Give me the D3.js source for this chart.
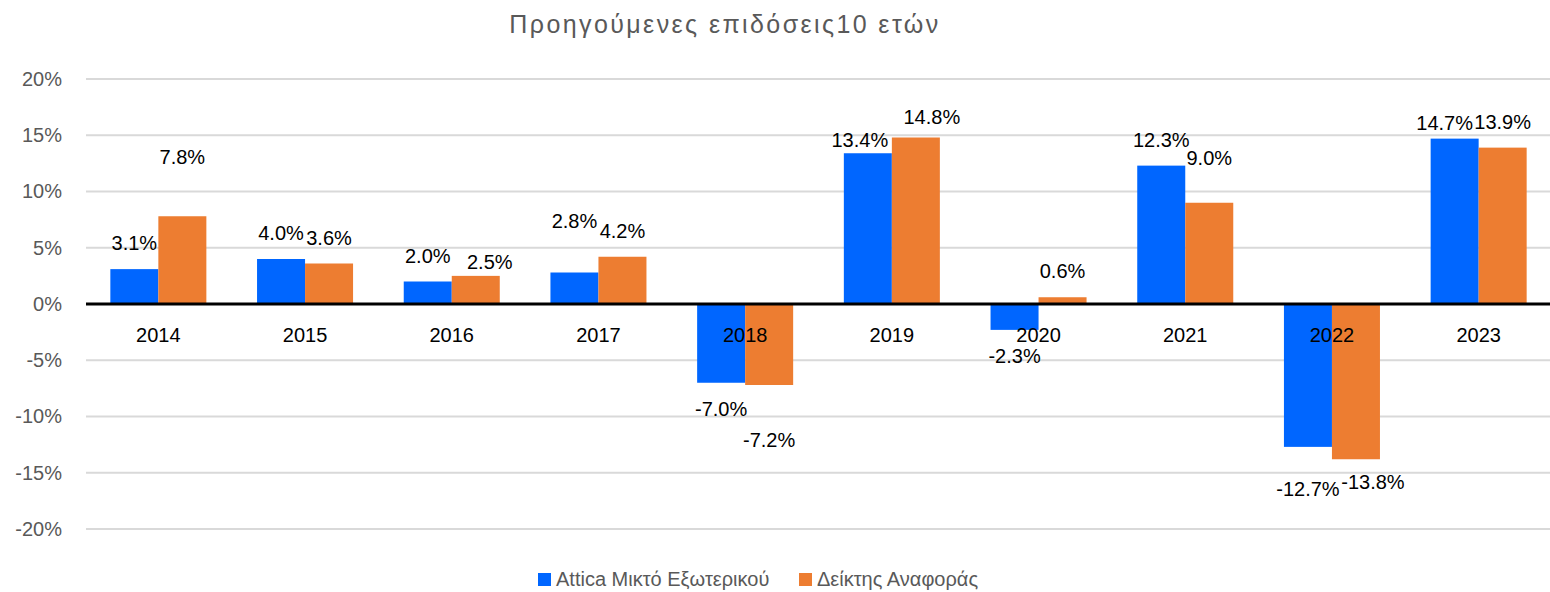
<!DOCTYPE html>
<html>
<head>
<meta charset="utf-8">
<script src="https://cdn.jsdelivr.net/npm/d3@7"></script>
<style>
  html, body { margin: 0; padding: 0; background: #ffffff; }
  svg { display: block; font-family: "Liberation Sans", Arial, sans-serif; }
</style>
</head>
<body>
<svg id="chart" width="1550" height="592"></svg>
<script>
// Annual returns (%) for the fund and its benchmark
const years = ["2014", "2015", "2016", "2017", "2018", "2019", "2020", "2021", "2022", "2023"];
const fundReturns = [3.1, 4.0, 2.0, 2.8, -7.0, 13.4, -2.3, 12.3, -12.7, 14.7];
const benchmarkReturns = [7.8, 3.6, 2.5, 4.2, -7.2, 14.8, 0.6, 9.0, -13.8, 13.9];
const seriesNames = ["Attica Μικτό Εξωτερικού", "Δείκτης Αναφοράς"];
const yTicks = [-20, -15, -10, -5, 0, 5, 10, 15, 20];
const titleText = "Προηγούμενες επιδόσεις10 ετών";

// Layout and styling
const colors = ["#0066FF", "#ED7D31"];
const plot = { left: 85, right: 1552, top: 79, bottom: 529 };
const labelGap = 26;
// Hand-placed data label offsets [dx, dy] per series and year
const labelNudge = [
  { "2017": [0, -26], "2019": [-8, 13], "2022": [0, 16], "2023": [-10, 10] },
  { "2014": [0, -33], "2016": [14, 12], "2018": [0, 29], "2019": [16, 5], "2021": [0, -19], "2022": [17, -3] }
];

const svg = d3.select("#chart");

const series = [fundReturns, benchmarkReturns];
const rows = years.map((yr, i) => ({ year: yr, values: series.map(s => s[i]) }));

const y = d3.scaleLinear().domain([-20, 20]).range([plot.bottom, plot.top]);
const x0 = d3.scaleBand().domain(years).range([plot.left, plot.right])
  .paddingInner(0.3455).paddingOuter(0.17275);
const x1 = d3.scaleBand().domain([0, 1]).range([0, x0.bandwidth()]);

// Title
svg.append("text")
  .attr("x", 725).attr("y", 33)
  .attr("text-anchor", "middle")
  .attr("font-size", 25)
  .attr("letter-spacing", 2.4)
  .attr("fill", "#595959")
  .text(titleText);

// Gridlines
svg.append("g")
  .selectAll("line")
  .data(yTicks.filter(t => t !== 0))
  .join("line")
  .attr("x1", plot.left + 1).attr("x2", 1550)
  .attr("y1", d => y(d)).attr("y2", d => y(d))
  .attr("stroke", "#d9d9d9").attr("stroke-width", 2);

// Y axis labels
const yAxis = d3.axisLeft(y).tickValues(yTicks).tickFormat(d => d + "%").tickSize(0).tickPadding(0);
const yAxisG = svg.append("g").attr("transform", "translate(62,0)").call(yAxis);
yAxisG.select(".domain").remove();
yAxisG.selectAll("text")
  .attr("font-family", "Liberation Sans, Arial, sans-serif")
  .attr("font-size", 20)
  .attr("fill", "#595959");

// Bars
const groups = svg.append("g")
  .selectAll("g")
  .data(rows)
  .join("g")
  .attr("transform", d => `translate(${x0(d.year)},0)`);

groups.selectAll("rect")
  .data(d => d.values.map((v, s) => ({ v, s })))
  .join("rect")
  .attr("x", d => x1(d.s))
  .attr("width", x1.bandwidth())
  .attr("y", d => Math.min(y(d.v), y(0)))
  .attr("height", d => Math.abs(y(d.v) - y(0)))
  .attr("fill", d => colors[d.s]);

// Zero line
svg.append("line")
  .attr("x1", plot.left + 1).attr("x2", 1550)
  .attr("y1", y(0)).attr("y2", y(0))
  .attr("stroke", "#000").attr("stroke-width", 3);

// Category labels along the zero line
const xAxis = d3.axisBottom(x0).tickSize(0).tickPadding(0);
const xAxisG = svg.append("g").attr("transform", `translate(0,${y(0) + 24})`).call(xAxis);
xAxisG.select(".domain").remove();
xAxisG.selectAll("text")
  .attr("font-family", "Liberation Sans, Arial, sans-serif")
  .attr("font-size", 20)
  .attr("fill", "#000");

// Data labels
groups.selectAll("text.val")
  .data(d => d.values.map((v, s) => ({ v, s, year: d.year })))
  .join("text")
  .attr("class", "val")
  .attr("text-anchor", "middle")
  .attr("dominant-baseline", "central")
  .attr("font-size", 20)
  .attr("fill", "#000")
  .attr("x", d => {
    const n = labelNudge[d.s][d.year];
    return x1(d.s) + x1.bandwidth() / 2 + (n ? n[0] : 0);
  })
  .attr("y", d => {
    const n = labelNudge[d.s][d.year];
    const base = d.v >= 0 ? y(d.v) - labelGap : y(d.v) + labelGap;
    return base + (n ? n[1] : 0);
  })
  .text(d => d.v.toFixed(1) + "%");

// Legend
const legendX = [538, 799];
const legend = svg.append("g")
  .selectAll("g")
  .data(seriesNames)
  .join("g")
  .attr("transform", (d, i) => `translate(${legendX[i]},573)`);
legend.append("rect")
  .attr("width", 13).attr("height", 13)
  .attr("fill", (d, i) => colors[i]);
legend.append("text")
  .attr("x", 18).attr("y", 13)
  .attr("font-size", 20)
  .attr("fill", "#595959")
  .text(d => d);
</script>
</body>
</html>
